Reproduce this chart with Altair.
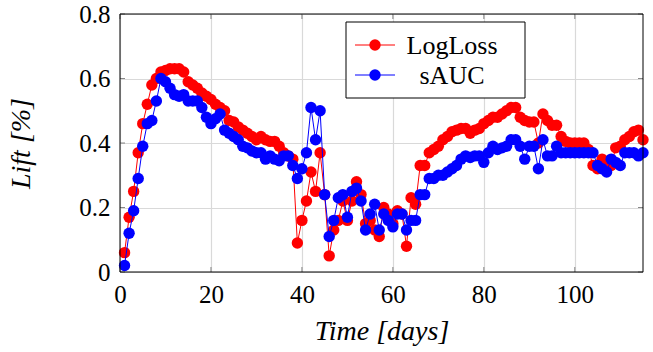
import altair as alt
import pandas as pd

days = list(range(1, 116))
logloss = [0.06, 0.17, 0.25, 0.37, 0.46, 0.52, 0.58, 0.60, 0.62, 0.625,
           0.63, 0.63, 0.63, 0.62, 0.59, 0.58, 0.57, 0.555, 0.545, 0.535,
           0.52, 0.51, 0.50, 0.47, 0.465, 0.45, 0.44, 0.43, 0.42, 0.41,
           0.42, 0.41, 0.405, 0.405, 0.39, 0.37, 0.36, 0.35, 0.09, 0.16,
           0.22, 0.31, 0.25, 0.37, 0.24, 0.05, 0.13, 0.16, 0.22, 0.16,
           0.22, 0.28, 0.24, 0.15, 0.16, 0.13, 0.11, 0.20, 0.18, 0.15,
           0.19, 0.18, 0.08, 0.23, 0.21, 0.33, 0.33, 0.37, 0.38, 0.39,
           0.41, 0.42, 0.435, 0.44, 0.445, 0.445, 0.43, 0.44, 0.445, 0.46,
           0.47, 0.48, 0.48, 0.49, 0.50, 0.51, 0.51, 0.48, 0.47, 0.465,
           0.465, 0.40, 0.49, 0.47, 0.455, 0.455, 0.42, 0.405, 0.40, 0.40,
           0.40, 0.40, 0.38, 0.33, 0.32, 0.35, 0.34, 0.33, 0.385, 0.39,
           0.41, 0.42, 0.435, 0.44, 0.41]
sauc = [0.02, 0.12, 0.19, 0.29, 0.39, 0.46, 0.47, 0.53, 0.60, 0.59,
        0.57, 0.55, 0.545, 0.55, 0.53, 0.53, 0.53, 0.51, 0.48, 0.46,
        0.475, 0.49, 0.44, 0.43, 0.42, 0.41, 0.39, 0.385, 0.375, 0.37,
        0.37, 0.35, 0.36, 0.35, 0.345, 0.36, 0.36, 0.33, 0.29, 0.32,
        0.37, 0.51, 0.41, 0.50, 0.24, 0.11, 0.16, 0.23, 0.24, 0.17,
        0.25, 0.26, 0.22, 0.13, 0.18, 0.21, 0.13, 0.18, 0.16, 0.14,
        0.18, 0.18, 0.13, 0.16, 0.16, 0.24, 0.24, 0.29, 0.29, 0.30,
        0.30, 0.31, 0.32, 0.33, 0.35, 0.36, 0.355, 0.36, 0.36, 0.34,
        0.37, 0.39, 0.38, 0.385, 0.39, 0.41, 0.41, 0.39, 0.35, 0.39,
        0.39, 0.32, 0.41, 0.36, 0.36, 0.39, 0.37, 0.37, 0.37, 0.37,
        0.37, 0.37, 0.37, 0.37, 0.33, 0.32, 0.31, 0.35, 0.34, 0.33,
        0.37, 0.37, 0.37, 0.36, 0.37]

series_names = ["LogLoss", "sAUC"]
series_colors = ["#ff0000", "#0000ff"]
x_ticks = [0, 20, 40, 60, 80, 100]
y_ticks = [0, 0.2, 0.4, 0.6, 0.8]

df = pd.concat([
    pd.DataFrame({"day": days, "lift": logloss, "series": series_names[0]}),
    pd.DataFrame({"day": days, "lift": sauc, "series": series_names[1]}),
], ignore_index=True)
xt_df = pd.DataFrame({"day": x_ticks})
yt_df = pd.DataFrame({"lift": y_ticks})

FONT = "Liberation Serif, Times New Roman, serif"
W, H = 523, 258
color_scale = alt.Scale(domain=series_names, range=series_colors)
x_scale = alt.Scale(domain=[0, 115], nice=False)
y_scale = alt.Scale(domain=[0, 0.8], nice=False)

axis_style = dict(labelFont=FONT, titleFont=FONT, labelFontSize=25, titleFontSize=28,
                  titleFontWeight="normal", labelColor="black", titleColor="black",
                  domain=False, ticks=False, labelPadding=10, labelFlush=False,
                  gridColor="#d9d9d9", gridWidth=1.2, titleFontStyle="italic")

x_enc = alt.X("day:Q", scale=x_scale,
              axis=alt.Axis(values=x_ticks, title="Time [days]",
                            titleY=67, titleBaseline="alphabetic", **axis_style))
y_enc = alt.Y("lift:Q", scale=y_scale,
              axis=alt.Axis(values=y_ticks, format=".1~f", title="Lift [%]",
                            titleAngle=-90, titleX=-99,
                            titleY=129, titleAlign="center", titleBaseline="middle",
                            **axis_style))

layers = []
for name in series_names:
    base = alt.Chart(df).transform_filter(alt.datum.series == name)
    line = base.mark_line(strokeWidth=1).encode(
        x=x_enc, y=y_enc,
        color=alt.Color("series:N", scale=color_scale, legend=None))
    pts = base.mark_circle(size=130, opacity=1).encode(
        x=x_enc, y=y_enc,
        color=alt.Color("series:N", scale=color_scale, legend=None))
    layers += [line, pts]

# inward tick marks on all four sides (pgfplots style)
TICK_C = "#555555"
for xpos in (2.5, W - 2.5):
    layers.append(alt.Chart(yt_df).mark_tick(orient="horizontal", size=5, thickness=1,
                                             color=TICK_C).encode(
        y=alt.Y("lift:Q", scale=y_scale), x=alt.value(xpos)))
for ypos in (2.5, H - 2.5):
    layers.append(alt.Chart(xt_df).mark_tick(orient="vertical", size=5, thickness=1,
                                             color=TICK_C).encode(
        x=alt.X("day:Q", scale=x_scale), y=alt.value(ypos)))

# frame drawn on top of the grid
frame = alt.Chart(xt_df).transform_filter("datum.day == 0").mark_rect(
    filled=False, stroke="black", strokeWidth=1).encode(
    x=alt.value(0), x2=alt.value(W), y=alt.value(0), y2=alt.value(H))
layers.append(frame)

# legend box
leg_df = pd.DataFrame({"series": series_names})
box = alt.Chart(leg_df).transform_filter("datum.series == 'LogLoss'").mark_rect(
    fill="white", stroke="black", strokeWidth=1).encode(
    x=alt.value(226), x2=alt.value(405), y=alt.value(8), y2=alt.value(84))
layers.append(box)
row_y = [31, 61]
for name, ry in zip(series_names, row_y):
    b = alt.Chart(leg_df).transform_filter(alt.datum.series == name)
    layers.append(b.mark_rule(strokeWidth=1).encode(
        x=alt.value(235), x2=alt.value(275), y=alt.value(ry),
        color=alt.Color("series:N", scale=color_scale, legend=None)))
    layers.append(b.mark_circle(size=130, opacity=1).encode(
        x=alt.value(255), y=alt.value(ry),
        color=alt.Color("series:N", scale=color_scale, legend=None)))
    layers.append(b.mark_text(font=FONT, fontSize=26, align="center", baseline="middle",
                              color="black").encode(
        x=alt.value(332), y=alt.value(ry + 1), text="series:N"))

chart = alt.layer(*layers).properties(
    width=W, height=H,
    autosize=alt.AutoSizeParams(type="none"),
    padding={"left": 120, "top": 14, "right": 10, "bottom": 80},
).configure_view(
    stroke=None
)

chart.save("out.html", embed_options={"renderer": "svg", "actions": False})
